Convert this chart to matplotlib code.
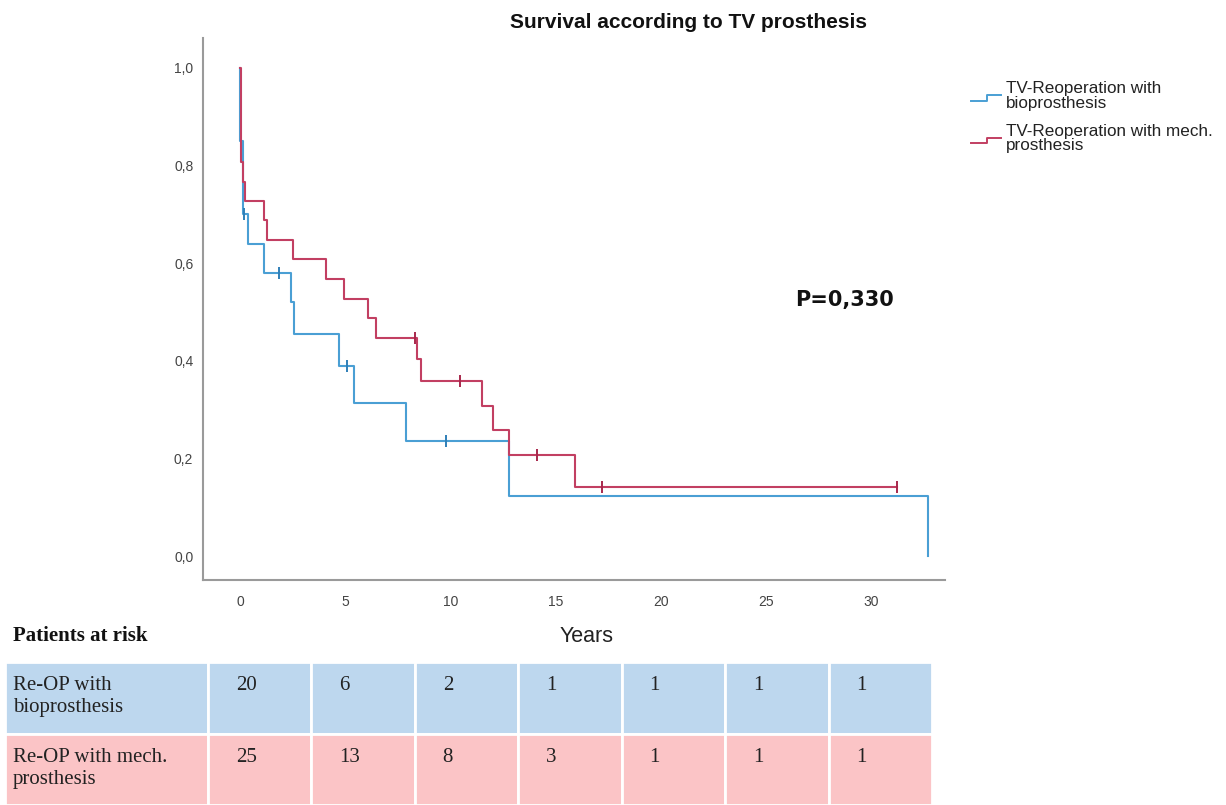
import matplotlib

matplotlib.use("Agg")
import matplotlib.pyplot as plt
import numpy as np
from matplotlib.legend_handler import HandlerBase
from matplotlib.lines import Line2D
from matplotlib.patches import Rectangle

# Kaplan-Meier steps (drop time, survival after drop)
bio_event_t = [0.02, 0.12, 0.40, 1.15, 2.40, 2.55, 4.70, 5.40, 7.90, 12.80, 32.70]
bio_surv = [0.85, 0.70, 0.64, 0.58, 0.52, 0.455, 0.39, 0.313, 0.236, 0.123, 0.0]
bio_censor_t = [0.05, 0.17, 1.85, 5.10, 9.80]

mech_event_t = [0.05, 0.15, 0.25, 1.15, 1.28, 2.50, 4.10, 4.95, 6.10, 6.45,
                8.40, 8.60, 11.50, 12.00, 12.80, 15.90]
mech_surv = [0.807, 0.766, 0.727, 0.688, 0.648, 0.608, 0.567, 0.527, 0.488, 0.447,
             0.404, 0.359, 0.307, 0.258, 0.207, 0.141]
mech_censor_t = [8.30, 10.45, 14.10, 17.20, 31.20]
mech_end_t = 31.20

x_ticks = [0, 5, 10, 15, 20, 25, 30]
y_ticks = [0.0, 0.2, 0.4, 0.6, 0.8, 1.0]

legend_labels = ["TV-Reoperation with\nbioprosthesis",
                 "TV-Reoperation with mech.\nprosthesis"]
p_text = "P=0,330"

risk_labels = ["Re-OP with\nbioprosthesis", "Re-OP with mech.\nprosthesis"]
risk_bio = [20, 6, 2, 1, 1, 1, 1]
risk_mech = [25, 13, 8, 3, 1, 1, 1]

BLUE = "#4a9fd4"
RED = "#c23f62"
BLUE_CELL = "#bdd7ee"
RED_CELL = "#fbc4c6"
SANS = ["Liberation Sans", "DejaVu Sans"]
SERIF = ["Liberation Serif", "DejaVu Serif"]


def surv_at(times, levels, t):
    idx = np.searchsorted(times, t, side="right") - 1
    return levels[idx]


class StepHandler(HandlerBase):
    def create_artists(self, legend, orig_handle, xdescent, ydescent,
                       width, height, fontsize, trans):
        x0 = -xdescent
        y0 = -ydescent
        xs = [x0, x0 + 0.55 * width, x0 + 0.55 * width, x0 + width]
        ys = [y0 + 0.1 * height, y0 + 0.1 * height, y0 + 0.55 * height, y0 + 0.55 * height]
        line = Line2D(xs, ys, color=orig_handle.get_color(), lw=1.4, transform=trans)
        return [line]


W, H = 1226, 805
fig = plt.figure(figsize=(W / 100, H / 100), dpi=100)
ax = fig.add_axes([203 / W, 1 - 580 / H, (945 - 203) / W, (580 - 38) / H])

# bio curve
bt = np.array([0.0] + bio_event_t)
bs = np.array([1.0] + bio_surv)
ax.step(bt, bs, where="post", color=BLUE, lw=1.5)
ax.plot(bio_censor_t, [surv_at(bt, bs, c) for c in bio_censor_t], ls="none",
        marker="|", ms=8, mew=1.4, color="#2f7fb8")

# mech curve
mt = np.array([0.0] + mech_event_t + [mech_end_t])
ms_ = np.array([1.0] + mech_surv + [mech_surv[-1]])
ax.step(mt, ms_, where="post", color=RED, lw=1.5)
ax.plot(mech_censor_t, [surv_at(mt, ms_, c) for c in mech_censor_t], ls="none",
        marker="|", ms=8, mew=1.4, color="#a8284c")

ax.set_xlim(-1.76, 33.5)
ax.set_ylim(-0.049, 1.061)
ax.set_xticks(x_ticks)
ax.set_xticklabels([str(v) for v in x_ticks])
ax.set_yticks(y_ticks)
ax.set_yticklabels([f"{v:.1f}".replace(".", ",") for v in y_ticks])
ax.tick_params(length=0, labelsize=10, labelcolor="#444444")
ax.tick_params(axis="x", pad=11)
ax.tick_params(axis="y", pad=7)
for lab in ax.get_xticklabels() + ax.get_yticklabels():
    lab.set_family(SANS)
for side in ["top", "right"]:
    ax.spines[side].set_visible(False)
for side in ["left", "bottom"]:
    ax.spines[side].set_color("#9a9a9a")
    ax.spines[side].set_linewidth(1.5)

ax.text(0.865, 0.517, p_text, transform=ax.transAxes, ha="center", va="center",
        fontsize=15, fontweight="bold", family="DejaVu Sans", color="#111111")

fig.text(689 / W, 1 - 23 / H, "Survival according to TV prosthesis", ha="center",
         va="center", fontsize=15, fontweight="bold", family=SANS, color="#111111")

handles = [Line2D([], [], color=BLUE), Line2D([], [], color=RED)]
leg = fig.legend(handles, legend_labels, loc="upper left",
                 bbox_to_anchor=(971 / W, 1 - 81 / H), frameon=False,
                 handler_map={Line2D: StepHandler()}, handlelength=1.75,
                 handletextpad=0.3, labelspacing=0.75, borderpad=0,
                 borderaxespad=0, prop={"family": SANS, "size": 12.3})
for t in leg.get_texts():
    t.set_linespacing(0.98)
    t.set_color("#222222")

# at-risk table
fig.text(13 / W, 1 - 636 / H, "Patients at risk", ha="left", va="center",
         fontsize=15, fontweight="bold", family=SERIF, color="#111111")
fig.text(587 / W, 1 - 636 / H, "Years", ha="center", va="center",
         fontsize=15.5, family=SANS, color="#222222")

tax = fig.add_axes([5 / W, 0, 927 / W, 143 / H])
label_w = 1.96
n_cols = len(risk_bio)
tax.set_xlim(0, label_w + n_cols)
tax.set_ylim(0, 2)
tax.axis("off")
rows = [(risk_labels[0], risk_bio, BLUE_CELL), (risk_labels[1], risk_mech, RED_CELL)]
for r, (label, counts, cell_color) in enumerate(rows):
    y_top = 2 - r
    tax.add_patch(Rectangle((0, y_top - 1), label_w, 1, facecolor=cell_color,
                            edgecolor="white", lw=2))
    tax.text(0.075, y_top - 0.2, label, ha="left", va="top", fontsize=15,
             family=SERIF, color="#222222", linespacing=1.22)
    for i, n in enumerate(counts):
        x0 = label_w + i
        tax.add_patch(Rectangle((x0, y_top - 1), 1, 1, facecolor=cell_color,
                                edgecolor="white", lw=2))
        tax.text(x0 + 0.27, y_top - 0.2, str(n), ha="left", va="top", fontsize=15,
                 family=SERIF, color="#222222")

fig.savefig("out.png", dpi=100)
